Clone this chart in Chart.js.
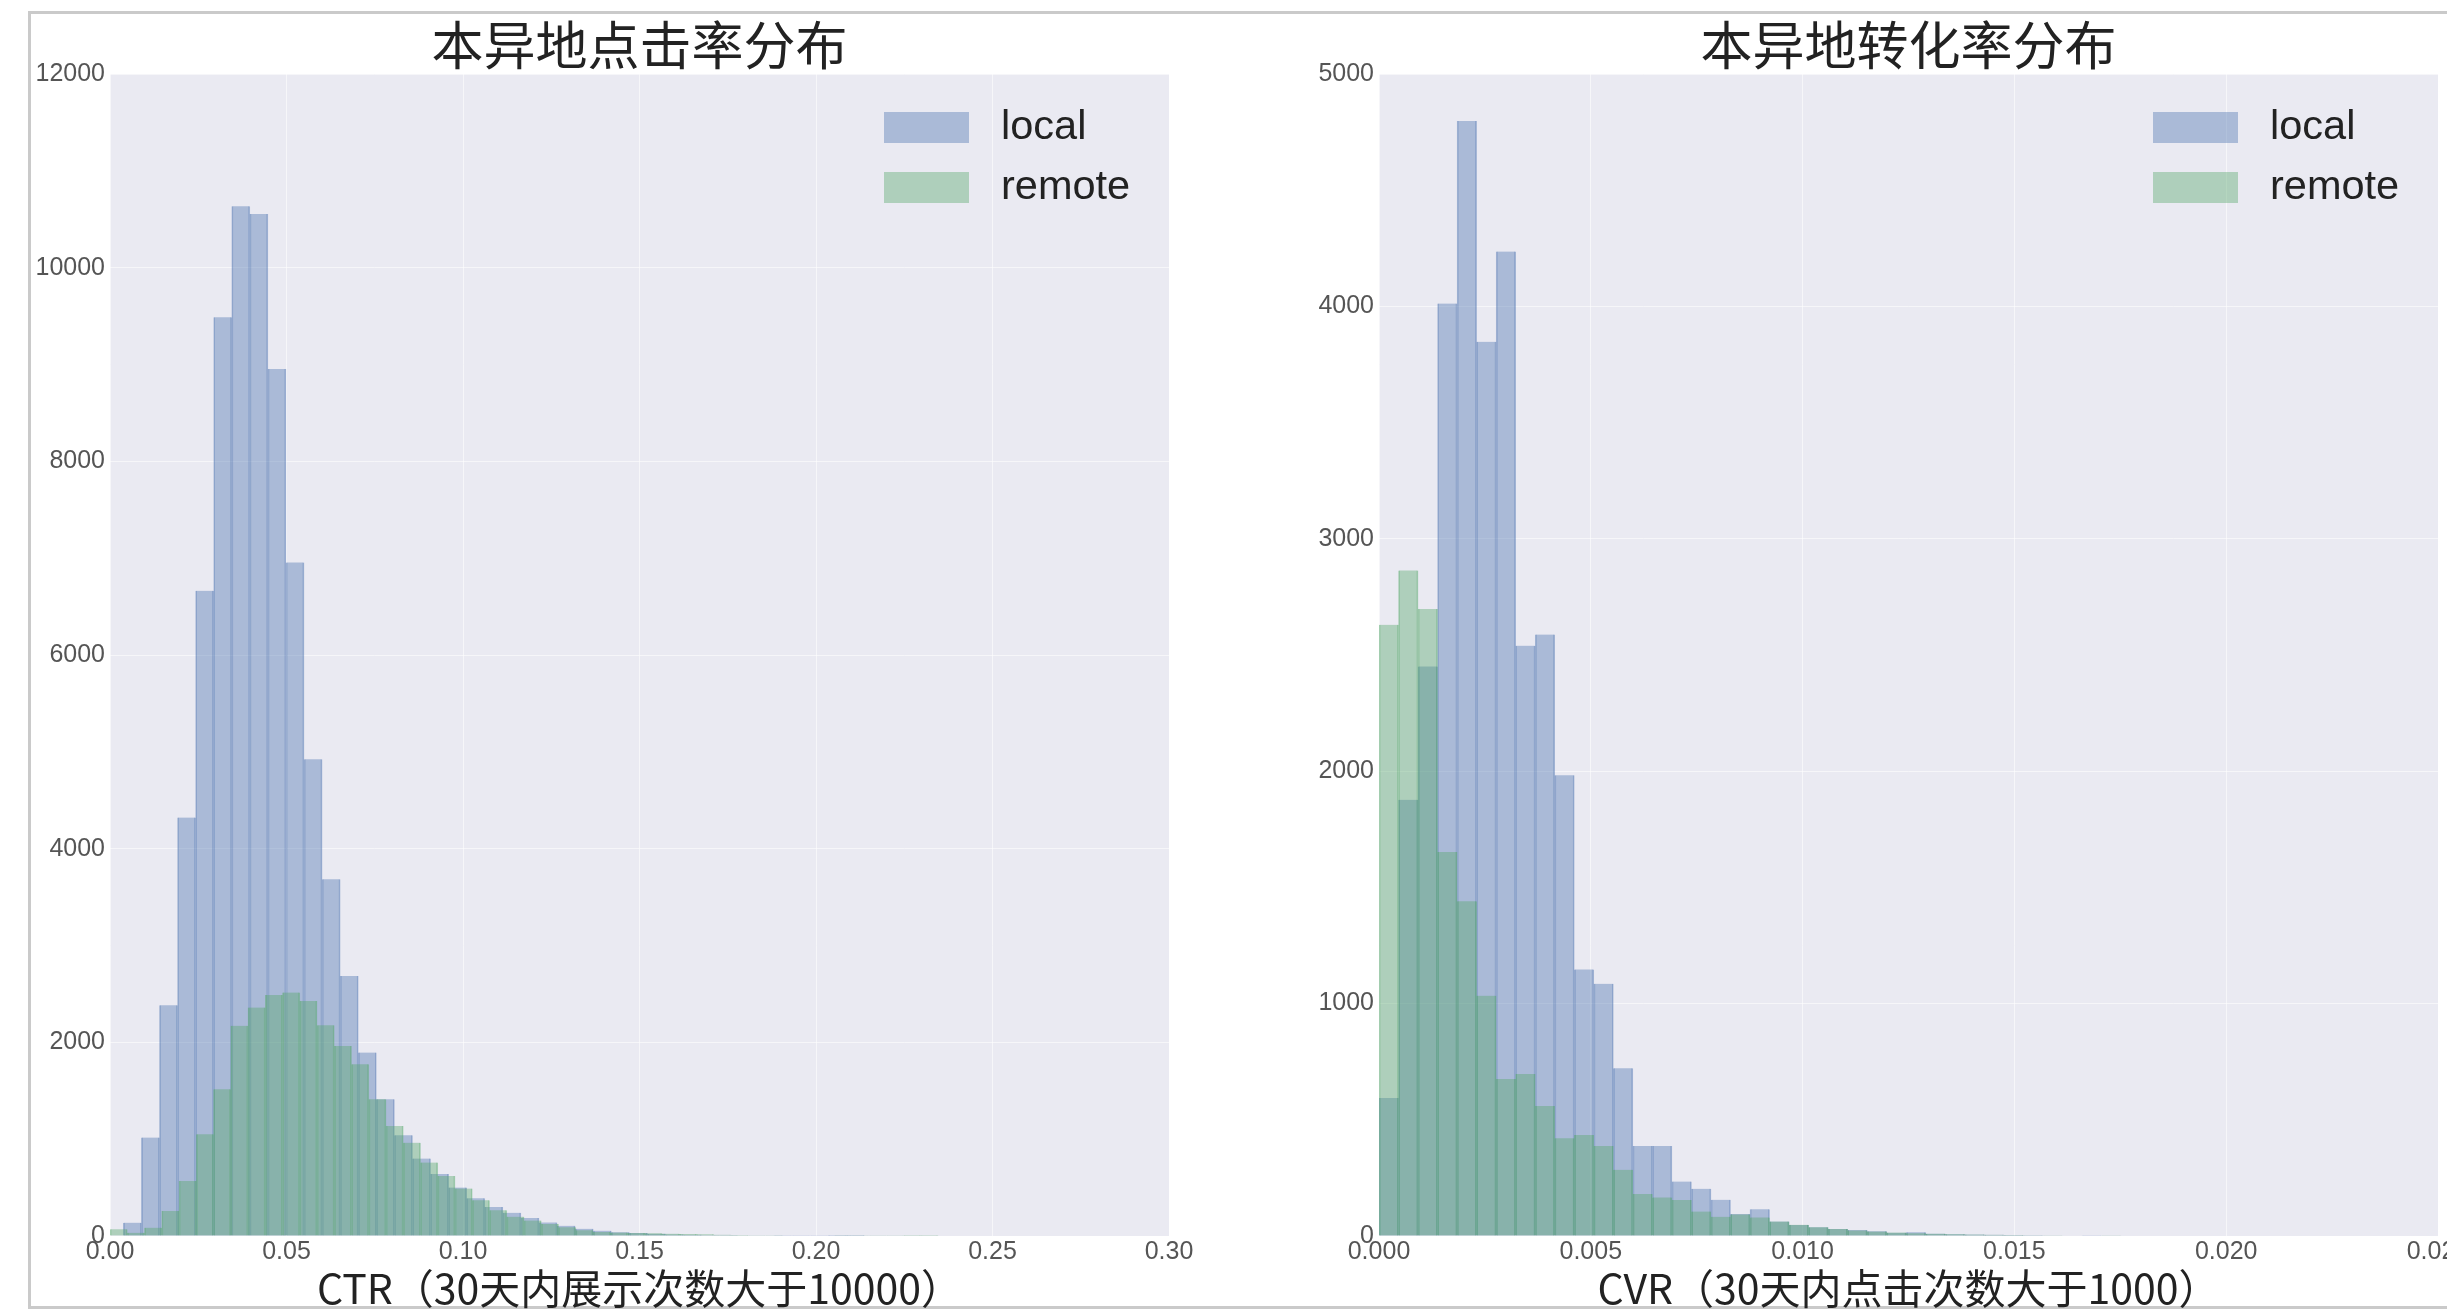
<!DOCTYPE html>
<html>
<head>
<meta charset="utf-8">
<title>本异地点击率 / 转化率分布</title>
<script src="https://cdn.jsdelivr.net/npm/chart.js@4/dist/chart.umd.min.js"></script>
<style>
  html, body { margin: 0; padding: 0; background: #fff; overflow: hidden; width: 2447px; height: 1309px; }
  #frame { position: absolute; left: 28px; top: 11px; width: 2600px; height: 1298px; box-sizing: border-box;
           border-top: 3px solid #cacaca; border-left: 3px solid #cacaca; border-bottom: 3px solid #cacaca; }
  canvas { position: absolute; top: 0; }
  #ctrChart { left: 0; }
  #cvrChart { left: 1269px; }
</style>
</head>
<body>
<div id="frame"></div>
<canvas id="ctrChart" width="1269" height="1309"></canvas>
<canvas id="cvrChart" width="1269" height="1309"></canvas>
<script>
// ---- series names ----
const seriesNames = ["local", "remote"];

// ---- CTR histogram (impressions > 10000 within 30 days) ----
const ctrTitle = "本异地点击率分布";
const ctrXLabel = "CTR（30天内展示次数大于10000）";
const ctrXTicks = ["0.00", "0.05", "0.10", "0.15", "0.20", "0.25", "0.30"];
const ctrYTicks = ["0", "2000", "4000", "6000", "8000", "10000", "12000"];
const ctrLocalBinStart = 0.00377;
const ctrLocalBinWidth = 0.00512;
const ctrLocalCounts = [138, 1016, 2383, 4322, 6663, 9488, 10634, 10555, 8953, 6956,
                        4924, 3685, 2686, 1894, 1412, 1040, 800, 640, 500, 390,
                        300, 240, 185, 140, 105, 75, 55, 40, 30, 22,
                        16, 12, 9, 7, 5, 4, 3, 2, 2, 1, 1];
const ctrRemoteBinStart = 0;
const ctrRemoteBinWidth = 0.004887;
const ctrRemoteCounts = [69, 34, 86, 258, 568, 1050, 1515, 2170, 2359, 2490,
                         2514, 2428, 2177, 1963, 1774, 1412, 1137, 964, 758, 620,
                         490, 370, 265, 200, 160, 125, 90, 60, 42, 36,
                         32, 28, 24, 20, 17, 14, 11, 9, 7, 6,
                         5, 4, 3, 3, 2, 2, 1, 1];

// ---- CVR histogram (clicks > 1000 within 30 days) ----
const cvrTitle = "本异地转化率分布";
const cvrXLabel = "CVR（30天内点击次数大于1000）";
const cvrXTicks = ["0.000", "0.005", "0.010", "0.015", "0.020", "0.025"];
const cvrYTicks = ["0", "1000", "2000", "3000", "4000", "5000"];
const cvrBinStart = 0;
const cvrBinWidth = 0.000461;
const cvrLocalCounts = [594, 1877, 2451, 4012, 4798, 3848, 4236, 2540, 2588, 1983,
                        1147, 1085, 722, 387, 387, 234, 203, 156, 95, 115,
                        62, 47, 38, 30, 26, 20, 14, 16, 10, 8,
                        6, 5, 4, 3, 2, 2, 1];
const cvrRemoteCounts = [2630, 2864, 2698, 1652, 1440, 1034, 676, 697, 559, 421,
                         435, 387, 285, 181, 166, 155, 105, 83, 93, 80,
                         62, 48, 38, 30, 24, 19, 15, 12, 10, 8,
                         6, 5, 4, 3, 3, 2, 2, 1];

// ---- styling ----
const LOCAL_FILL = "rgba(76, 114, 176, 0.4)";
const LOCAL_EDGE = "rgba(76, 114, 176, 0.44)";
const REMOTE_FILL = "rgba(85, 168, 104, 0.4)";
const REMOTE_EDGE = "rgba(85, 168, 104, 0.44)";
const TEXT_DARK = "#222222";
const TICK_COLOR = "#555555";
const LATIN_FONT = "'Liberation Sans', Arial, sans-serif";
const CJK_FONT = "'Noto Sans CJK SC', sans-serif";

// histogram bins -> bar points centred in each bin
function toBars(start, width, counts) {
  return counts.map((c, i) => ({ x: start + (i + 0.5) * width, y: c }));
}

// fill the plotting area like a seaborn darkgrid axes
const plotBackground = {
  id: "plotBackground",
  beforeDraw(chart, args, opts) {
    const { ctx, chartArea: a } = chart;
    ctx.save();
    ctx.fillStyle = opts.color;
    ctx.fillRect(a.left, a.top, a.right - a.left, a.bottom - a.top);
    ctx.restore();
  }
};

// legend drawn inside the upper-right corner of the plotting area
const insideLegend = {
  id: "insideLegend",
  afterDatasetsDraw(chart, args, opts) {
    const { ctx, chartArea: a } = chart;
    const x0 = a.right - opts.offsetRight;
    let y = a.top + opts.offsetTop;
    ctx.save();
    ctx.font = opts.font;
    ctx.textAlign = "left";
    ctx.textBaseline = "middle";
    const items = chart.data.datasets.slice().sort((p, q) => p.legendIndex - q.legendIndex);
    for (const ds of items) {
      ctx.fillStyle = ds.backgroundColor;
      ctx.fillRect(x0, y, opts.boxWidth, opts.boxHeight);
      ctx.fillStyle = opts.color;
      ctx.fillText(ds.label, x0 + opts.textGap, y + opts.boxHeight / 2);
      y += opts.rowHeight;
    }
    ctx.restore();
  }
};

function histDataset(label, points, axisId, fill, edge, order, legendIndex) {
  return {
    label, data: points, xAxisID: axisId,
    backgroundColor: fill, borderColor: edge,
    borderWidth: { left: 1, right: 1, top: 0, bottom: 0 },
    barPercentage: 1, categoryPercentage: 1, grouped: false,
    order, legendIndex
  };
}

function makeHistogram(canvasId, cfg) {
  const tickFont = { family: LATIN_FONT, size: 25 };
  const gridStyle = { color: "rgba(255,255,255,0.55)", lineWidth: 1, drawTicks: false, offset: false };
  const xMin = Number(cfg.xTicks[0]), xMax = Number(cfg.xTicks[cfg.xTicks.length - 1]);
  const yMax = Number(cfg.yTicks[cfg.yTicks.length - 1]);
  return new Chart(document.getElementById(canvasId), {
    type: "bar",
    data: {
      datasets: [
        histDataset(seriesNames[0], cfg.local, "x", LOCAL_FILL, LOCAL_EDGE, 2, 0),
        histDataset(seriesNames[1], cfg.remote, "x2", REMOTE_FILL, REMOTE_EDGE, 1, 1)
      ]
    },
    options: {
      responsive: false,
      animation: false,
      devicePixelRatio: 1,
      events: [],
      layout: { padding: { top: 0, right: 100, bottom: 0, left: 0 } },
      plugins: {
        legend: { display: false },
        tooltip: { enabled: false },
        title: {
          display: true, text: cfg.title, fullSize: false, color: TEXT_DARK,
          font: { family: CJK_FONT, size: 52, weight: "normal", lineHeight: 1 },
          padding: { top: 19, bottom: 3 }
        },
        plotBackground: { color: "#EAEAF2" },
        insideLegend: {
          offsetRight: 285, offsetTop: 38, boxWidth: 85, boxHeight: 31,
          rowHeight: 60, textGap: 117, color: TEXT_DARK,
          font: "normal 41.5px " + LATIN_FONT
        }
      },
      scales: {
        x: {
          type: "linear", position: "bottom", min: xMin, max: xMax, offset: false,
          grid: gridStyle, border: { display: false },
          afterBuildTicks: s => { s.ticks = cfg.xTicks.map(t => ({ value: Number(t) })); },
          afterFit: s => { s.height = 73; },
          ticks: {
            font: tickFont, color: TICK_COLOR, padding: 1, maxRotation: 0, autoSkip: false,
            callback: (v, i) => cfg.xTicks[i]
          },
          title: {
            display: true, text: cfg.xLabel, color: TEXT_DARK,
            font: { family: CJK_FONT, size: 41, weight: "normal", lineHeight: 1 },
            padding: { top: 0, bottom: 0 }
          }
        },
        x2: { type: "linear", min: xMin, max: xMax, offset: false, display: false },
        y: {
          type: "linear", position: "left", min: 0, max: yMax,
          grid: gridStyle, border: { display: false },
          afterBuildTicks: s => { s.ticks = cfg.yTicks.map(t => ({ value: Number(t) })); },
          afterFit: s => { s.width = 110; },
          ticks: {
            font: tickFont, color: TICK_COLOR, padding: 5, autoSkip: false,
            callback: (v, i) => cfg.yTicks[i]
          }
        }
      }
    },
    plugins: [plotBackground, insideLegend]
  });
}

makeHistogram("ctrChart", {
  title: ctrTitle, xLabel: ctrXLabel, xTicks: ctrXTicks, yTicks: ctrYTicks,
  local: toBars(ctrLocalBinStart, ctrLocalBinWidth, ctrLocalCounts),
  remote: toBars(ctrRemoteBinStart, ctrRemoteBinWidth, ctrRemoteCounts)
});

makeHistogram("cvrChart", {
  title: cvrTitle, xLabel: cvrXLabel, xTicks: cvrXTicks, yTicks: cvrYTicks,
  local: toBars(cvrBinStart, cvrBinWidth, cvrLocalCounts),
  remote: toBars(cvrBinStart, cvrBinWidth, cvrRemoteCounts)
});
</script>
</body>
</html>
